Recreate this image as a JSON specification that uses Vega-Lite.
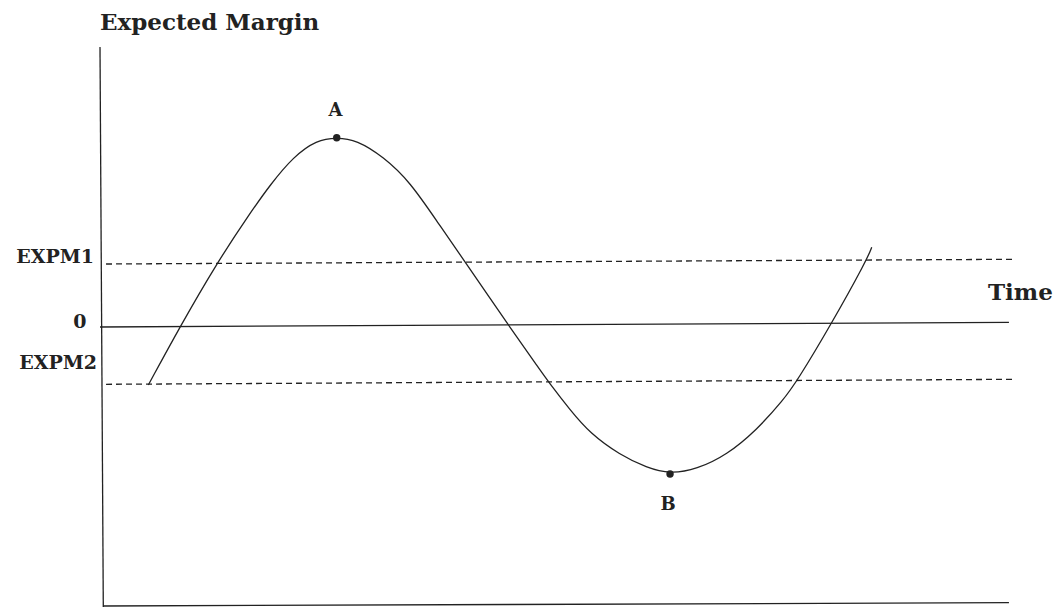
{
  "$schema": "https://vega.github.io/schema/vega-lite/v6.json",
  "width": 915,
  "height": 562,
  "autosize": {"type": "none"},
  "padding": {"left": 100, "top": 45, "right": 40, "bottom": 0},
  "background": "white",
  "config": {"view": {"stroke": null}},
  "datasets": {
    "curve": [
      {"t": 5.28, "m": -21.0},
      {"t": 8.74, "m": -0.25},
      {"t": 12.75, "m": 22.31},
      {"t": 16.39, "m": 40.11},
      {"t": 18.58, "m": 50.18},
      {"t": 21.13, "m": 60.25},
      {"t": 23.68, "m": 66.19},
      {"t": 25.87, "m": 67.08},
      {"t": 28.05, "m": 66.19},
      {"t": 30.96, "m": 60.25},
      {"t": 33.88, "m": 51.35},
      {"t": 36.97, "m": 36.55},
      {"t": 39.89, "m": 22.88},
      {"t": 44.62, "m": 0.36},
      {"t": 48.09, "m": -15.66},
      {"t": 48.99, "m": -19.82},
      {"t": 51.37, "m": -29.89},
      {"t": 53.55, "m": -38.19},
      {"t": 56.83, "m": -45.91},
      {"t": 59.75, "m": -50.43},
      {"t": 62.3, "m": -52.67},
      {"t": 65.21, "m": -51.0},
      {"t": 68.49, "m": -45.91},
      {"t": 71.77, "m": -37.01},
      {"t": 74.68, "m": -26.33},
      {"t": 76.14, "m": -19.82},
      {"t": 79.97, "m": 0.96},
      {"t": 83.79, "m": 23.49},
      {"t": 84.34, "m": 28.01}
    ],
    "solidRules": [
      {"name": "zero", "t": 0, "m": -0.36, "t2": 99.34, "m2": 1.32},
      {"name": "yaxis", "t": 0, "m": 99.29, "t2": 0.36, "m2": -100},
      {"name": "xaxis", "t": 0.33, "m": -99.64, "t2": 99.34, "m2": -98.47}
    ],
    "dashedRules": [
      {"name": "EXPM1", "t": 0.66, "m": 22.06, "t2": 99.78, "m2": 23.74},
      {"name": "EXPM2", "t": 0.66, "m": -20.75, "t2": 99.78, "m2": -18.97}
    ],
    "points": [
      {"label": "A", "t": 25.87, "m": 67.0},
      {"label": "B", "t": 62.3, "m": -52.67}
    ],
    "pointLabels": [
      {"label": "A", "t": 25.74, "m": 76.5},
      {"label": "B", "t": 62.08, "m": -63.7}
    ],
    "leftLabels": [
      {"label": "EXPM1", "t": -0.66, "m": 24.56},
      {"label": "EXPM2", "t": -0.33, "m": -13.17}
    ],
    "zeroLabel": [
      {"label": "0", "t": -2.19, "m": 1.42}
    ],
    "titles": [
      {"label": "Expected Margin", "t": 0, "m": 107.8},
      {"label": "Time", "t": 97.05, "m": 11.74}
    ]
  },
  "encoding": {
    "x": {"field": "t", "type": "quantitative", "scale": {"domain": [0, 100], "nice": false, "zero": false}, "axis": null},
    "y": {"field": "m", "type": "quantitative", "scale": {"domain": [-100, 100], "nice": false, "zero": false}, "axis": null}
  },
  "layer": [
    {
      "data": {"name": "solidRules"},
      "mark": {"type": "rule", "color": "#222222", "strokeWidth": 1.3},
      "encoding": {
        "x2": {"field": "t2"},
        "y2": {"field": "m2"}
      }
    },
    {
      "data": {"name": "dashedRules"},
      "mark": {"type": "rule", "color": "#222222", "strokeWidth": 1.3, "strokeDash": [6, 4]},
      "encoding": {
        "x2": {"field": "t2"},
        "y2": {"field": "m2"}
      }
    },
    {
      "data": {"name": "curve"},
      "mark": {"type": "line", "color": "#222222", "strokeWidth": 1.3, "interpolate": "basis"},
      "encoding": {"order": {"field": "t", "type": "quantitative"}}
    },
    {
      "data": {"name": "points"},
      "mark": {"type": "point", "filled": true, "color": "#222222", "size": 55, "opacity": 1}
    },
    {
      "data": {"name": "pointLabels"},
      "mark": {"type": "text", "font": "DejaVu Serif", "fontWeight": "bold", "fontSize": 18, "color": "#222222", "align": "center", "baseline": "middle"},
      "encoding": {"text": {"field": "label"}}
    },
    {
      "data": {"name": "leftLabels"},
      "mark": {"type": "text", "font": "DejaVu Serif", "fontWeight": "bold", "fontSize": 19, "color": "#222222", "align": "right", "baseline": "middle"},
      "encoding": {"text": {"field": "label"}}
    },
    {
      "data": {"name": "zeroLabel"},
      "mark": {"type": "text", "font": "DejaVu Serif", "fontWeight": "bold", "fontSize": 19, "color": "#222222", "align": "center", "baseline": "middle"},
      "encoding": {"text": {"field": "label"}}
    },
    {
      "data": {"name": "titles"},
      "mark": {"type": "text", "font": "DejaVu Serif", "fontWeight": "bold", "fontSize": 23, "color": "#222222", "align": "left", "baseline": "middle"},
      "encoding": {"text": {"field": "label"}}
    }
  ]
}
